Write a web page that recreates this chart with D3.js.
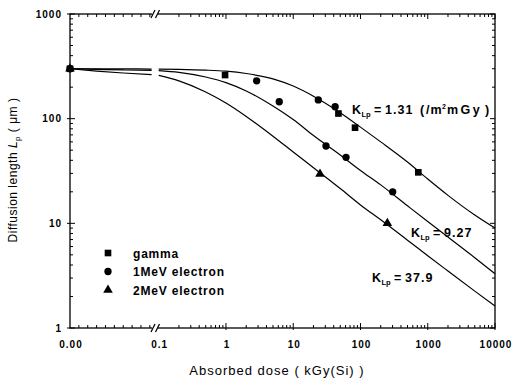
<!DOCTYPE html>
<html>
<head>
<meta charset="utf-8">
<script src="https://cdn.jsdelivr.net/npm/d3@7"></script>
<style>
body { margin: 0; background: #fff; }
text { font-family: "Liberation Sans", Arial, sans-serif; fill: #000; }
</style>
</head>
<body>
<div id="chart"></div>
<script>

// fitted curves (dose in kGy(Si), L in um)
var curveDose = [0, 0.03, 0.06, 0.092, 0.1, 0.2, 0.5, 1, 2, 5, 10, 20, 50, 100, 200, 500, 1000, 2000, 5000, 10000];
var fitK131 = [300, 299.5, 299, 298, 298, 296, 291, 284, 270, 240, 205, 164, 114, 83, 60, 38.5, 26.5, 18.5, 12, 9];
var fitK927 = [300, 296, 292, 289, 288, 277, 250, 221, 184, 132, 98, 69, 45, 32, 23.3, 14.7, 10.4, 7.4, 4.7, 3.3];
var fitK379 = [300, 285, 273, 263, 259, 230, 180, 141, 105, 68, 48, 34, 21.5, 15, 10.8, 6.9, 4.9, 3.5, 2.25, 1.62];

// measured points
var gammaDose = [0, 0.97, 47, 83, 724];
var gammaL = [300, 261, 112, 82, 30.7];
var e1Dose = [0, 2.86, 6.2, 23.6, 42, 30.7, 61, 301];
var e1L = [300, 230, 145, 151, 130, 54.8, 42.7, 20];
var e2Dose = [0, 25, 251];
var e2L = [300, 29.6, 10];

var xLabels = ["0.00", "0.1", "1", "10", "100", "1000", "10000"];
var xLabelVals = [0, 0.1, 1, 10, 100, 1000, 10000];
var yLabelVals = [1, 10, 100, 1000];
var legendNames = ["gamma", "1MeV electron", "2MeV electron"];
var kValues = ["1.31", "9.27", "37.9"];

var width = 512, height = 381;
var pl = 70, pr = 495, pt = 14, pb = 328;
var brk = 158.7;

var svg = d3.select("#chart").append("svg")
  .attr("width", width)
  .attr("height", height);

var xLin = d3.scaleLinear().domain([0, 0.1]).range([pl, brk]);
var xLog = d3.scaleLog().domain([0.1, 10000]).range([brk, pr]);
var y = d3.scaleLog().domain([1, 1000]).range([pb, pt]);

function xPos(d) { return d < 0.1 ? xLin(d) : xLog(d); }

// frame
svg.append("rect")
  .attr("x", pl).attr("y", pt)
  .attr("width", pr - pl).attr("height", pb - pt)
  .attr("fill", "none").attr("stroke", "#000").attr("stroke-width", 1.3);

// x ticks
var isPow10 = function(v) { return Math.abs(Math.log10(v) - Math.round(Math.log10(v))) < 1e-6; };
var xMinorLin = d3.range(1, 10).map(function(i) { return i / 100; });
var xMinorLog = xLog.ticks().filter(function(v) { return !isPow10(v); });
var xMajor = [1, 10, 100, 1000, 10000];

var ticks = svg.append("g").attr("stroke", "#000").attr("stroke-width", 1);
xMinorLin.concat(xMinorLog).forEach(function(v) {
  var px = xPos(v);
  ticks.append("line").attr("x1", px).attr("x2", px).attr("y1", pb).attr("y2", pb - 3);
  ticks.append("line").attr("x1", px).attr("x2", px).attr("y1", pt).attr("y2", pt + 3);
});
xMajor.forEach(function(v) {
  var px = xLog(v);
  ticks.append("line").attr("x1", px).attr("x2", px).attr("y1", pb + 2).attr("y2", pb - 5);
  ticks.append("line").attr("x1", px).attr("x2", px).attr("y1", pt).attr("y2", pt + 5);
});

// y ticks
var yMinor = y.ticks().filter(function(v) { return !isPow10(v); });
yMinor.forEach(function(v) {
  ticks.append("line").attr("x1", pl).attr("x2", pl + 3).attr("y1", y(v)).attr("y2", y(v));
  ticks.append("line").attr("x1", pr).attr("x2", pr - 3).attr("y1", y(v)).attr("y2", y(v));
});
yLabelVals.forEach(function(v) {
  ticks.append("line").attr("x1", pl - 3).attr("x2", pl + 5).attr("y1", y(v)).attr("y2", y(v));
  ticks.append("line").attr("x1", pr).attr("x2", pr - 5).attr("y1", y(v)).attr("y2", y(v));
});

// axis break marks
[pb, pt].forEach(function(yy) {
  svg.append("rect").attr("x", 152).attr("y", yy - 1).attr("width", 6).attr("height", 2).attr("fill", "#fff");
  [151, 155.5].forEach(function(bx) {
    svg.append("line")
      .attr("x1", bx).attr("y1", yy + 4)
      .attr("x2", bx + 4).attr("y2", yy - 4)
      .attr("stroke", "#000").attr("stroke-width", 1.2);
  });
});

// tick labels
svg.append("g").selectAll("text")
  .data(xLabelVals)
  .enter().append("text")
  .attr("x", function(d, i) { return xPos(d) + 1; })
  .attr("y", 348)
  .attr("text-anchor", "middle")
  .attr("font-size", 10)
  .attr("font-weight", "bold")
  .attr("letter-spacing", 1)
  .text(function(d, i) { return xLabels[i]; });

svg.append("g").selectAll("text")
  .data(yLabelVals)
  .enter().append("text")
  .attr("x", 62)
  .attr("y", function(d) { return y(d) + 3.5; })
  .attr("text-anchor", "end")
  .attr("font-size", 10)
  .attr("font-weight", "bold")
  .attr("letter-spacing", 1)
  .text(function(d) { return d; });

// axis titles
svg.append("text")
  .attr("x", 277).attr("y", 375)
  .attr("text-anchor", "middle")
  .attr("font-size", 13)
  .attr("letter-spacing", 1)
  .text("Absorbed dose ( kGy(Si) )");

var yt = svg.append("text")
  .attr("transform", "translate(17,170) rotate(-90)")
  .attr("text-anchor", "middle")
  .attr("font-size", 12)
  .attr("letter-spacing", 0.5);
yt.append("tspan").text("Diffusion length ");
yt.append("tspan").attr("font-style", "italic").text("L");
yt.append("tspan").attr("font-size", 8).attr("dy", 3).text("p");
yt.append("tspan").attr("dy", -3).text(" ( \u03bcm )");

// fitted curves, split at the axis break
var line = d3.line()
  .x(function(d) { return xPos(d[0]); })
  .y(function(d) { return y(d[1]); })
  .curve(d3.curveMonotoneX);

[fitK131, fitK927, fitK379].forEach(function(vals) {
  var pts = curveDose.map(function(d, i) { return [d, vals[i]]; });
  var leftPts = pts.filter(function(p) { return p[0] < 0.1; });
  var rightPts = pts.filter(function(p) { return p[0] >= 0.1; });
  [leftPts, rightPts].forEach(function(seg) {
    svg.append("path")
      .attr("d", line(seg))
      .attr("fill", "none")
      .attr("stroke", "#000")
      .attr("stroke-width", 1.2);
  });
});

// markers
var sym = {
  square: d3.symbol().type(d3.symbolSquare).size(44),
  circle: d3.symbol().type(d3.symbolCircle).size(42),
  triangle: d3.symbol().type(d3.symbolTriangle).size(40)
};

function drawPoints(doses, vals, shape) {
  svg.append("g").selectAll("path")
    .data(doses)
    .enter().append("path")
    .attr("d", sym[shape])
    .attr("transform", function(d, i) { return "translate(" + xPos(d) + "," + y(vals[i]) + ")"; })
    .attr("fill", "#000");
}
drawPoints(gammaDose, gammaL, "square");
drawPoints(e1Dose, e1L, "circle");
drawPoints(e2Dose, e2L, "triangle");

// legend
var shapes = ["square", "circle", "triangle"];
var lg = svg.append("g");
legendNames.forEach(function(name, i) {
  var ly = 253 + i * 18.5;
  lg.append("path")
    .attr("d", sym[shapes[i]])
    .attr("transform", "translate(108," + ly + ")")
    .attr("fill", "#000");
  lg.append("text")
    .attr("x", 133).attr("y", ly + 4.5)
    .attr("font-size", 12)
    .attr("font-weight", "bold")
    .attr("letter-spacing", 0.8)
    .text(name);
});

// K_Lp labels
function kLabel(x0, y0, value, unit) {
  var t = svg.append("text")
    .attr("y", y0)
    .attr("font-size", 12.5)
    .attr("font-weight", "bold")
    .attr("letter-spacing", 1);
  t.append("tspan").attr("x", x0).attr("letter-spacing", 0).text("K");
  t.append("tspan").attr("x", x0 + 9.5).attr("dy", 3).attr("font-size", 7.5).attr("letter-spacing", 0).text("Lp");
  t.append("tspan").attr("x", x0 + 22).attr("dy", -3).text("=");
  t.append("tspan").attr("x", x0 + 33).text(value);
  if (unit) {
    t.append("tspan").attr("x", x0 + 68).text("(");
    t.append("tspan").attr("x", x0 + 74).text("/m");
    t.append("tspan").attr("x", x0 + 90).attr("dy", -5).attr("font-size", 7).attr("letter-spacing", 0).text("2");
    t.append("tspan").attr("x", x0 + 95).attr("dy", 5).attr("letter-spacing", 2.5).text("mGy");
    t.append("tspan").attr("x", x0 + 133).text(")");
  }
  return t;
}
kLabel(352, 114, kValues[0], true);
kLabel(411, 237, kValues[1], false);
kLabel(372, 282, kValues[2], false);

</script>
</body>
</html>
